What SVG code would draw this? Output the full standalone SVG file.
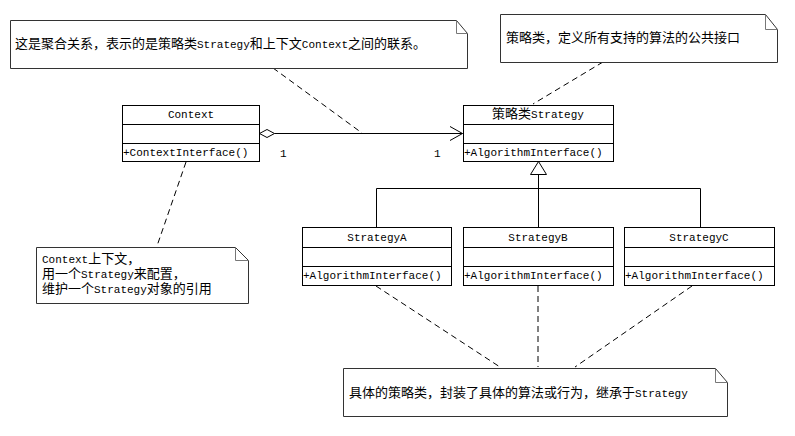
<svg xmlns="http://www.w3.org/2000/svg" width="795" height="436" viewBox="0 0 795 436">
<style>
text{font-family:"Liberation Mono","Noto Sans CJK SC",monospace;font-size:11px;fill:#000}
.c{font-family:"Noto Sans CJK SC",sans-serif;font-size:13px}
.box{fill:#fff;stroke:#000;stroke-width:1}
.note{fill:#fff;stroke:#333;stroke-width:1}
.fold{fill:none;stroke:#777;stroke-width:1}
.dash{fill:none;stroke:#000;stroke-width:1;stroke-dasharray:6 4}
.ln{fill:none;stroke:#000;stroke-width:1}
.mid{text-anchor:middle}
</style>
<rect width="795" height="436" fill="#fff"/>
<g id="connectors">
<line class="dash" x1="273" y1="68" x2="362" y2="133"/>
<line class="dash" x1="603" y1="62" x2="533" y2="104"/>
<line class="dash" x1="186" y1="162" x2="157" y2="246"/>
<line class="dash" x1="376" y1="286" x2="500" y2="367"/>
<line class="dash" x1="538" y1="286" x2="538" y2="367"/>
<line class="dash" x1="692" y1="286" x2="575" y2="367"/>
<polygon class="box" points="259.5,133.5 267,129.5 274.5,133.5 267,137.5"/>
<line class="ln" x1="274.5" y1="133.5" x2="462.5" y2="133.5"/>
<polyline class="ln" points="450,126.5 462.5,133.5 450,140.5"/>
<text x="280" y="157">1</text>
<text x="434" y="157">1</text>
<polygon class="box" points="538.5,161.5 546.5,174.5 530.5,174.5"/>
<line class="ln" x1="538.5" y1="174.5" x2="538.5" y2="227"/>
<polyline class="ln" points="376.5,227 376.5,188.5 700.5,188.5 700.5,227"/>
</g>
<g id="note-aggregation">
<path class="note" d="M10.5,20.5 H456.5 L467.5,33.5 V68.5 H10.5 Z"/>
<polyline class="fold" points="456.5,20.5 456.5,33.5 467.5,33.5"/>
<text x="15" y="48"><tspan class="c">这是聚合关系，表示的是策略类</tspan>Strategy<tspan class="c">和上下文</tspan>Context<tspan class="c">之间的联系。</tspan></text>
</g>
<g id="note-strategy">
<path class="note" d="M500.5,14.5 H765.5 L777.5,29.5 V62.5 H500.5 Z"/>
<polyline class="fold" points="765.5,14.5 765.5,29.5 777.5,29.5"/>
<text x="506" y="42"><tspan class="c">策略类，定义所有支持的算法的公共接口</tspan></text>
</g>
<g id="context">
<rect class="box" x="122.5" y="105.5" width="137" height="56"/>
<line class="ln" x1="122.5" y1="124.5" x2="259.5" y2="124.5"/>
<line class="ln" x1="122.5" y1="143.5" x2="259.5" y2="143.5"/>
<text class="mid" x="191" y="118">Context</text>
<text x="123" y="156">+ContextInterface()</text>
</g>
<g id="strategy">
<rect class="box" x="463.5" y="105.5" width="150" height="56"/>
<line class="ln" x1="463.5" y1="124.5" x2="613.5" y2="124.5"/>
<line class="ln" x1="463.5" y1="143.5" x2="613.5" y2="143.5"/>
<text class="mid" x="538" y="118"><tspan class="c">策略类</tspan>Strategy</text>
<text x="464" y="156">+AlgorithmInterface()</text>
</g>
<g id="strategyA">
<rect class="box" x="302.5" y="227.5" width="149" height="58"/>
<line class="ln" x1="302.5" y1="247.5" x2="451.5" y2="247.5"/>
<line class="ln" x1="302.5" y1="266.5" x2="451.5" y2="266.5"/>
<text class="mid" x="377" y="241">StrategyA</text>
<text x="303" y="279">+AlgorithmInterface()</text>
</g>
<g id="strategyB">
<rect class="box" x="463.5" y="227.5" width="150" height="58"/>
<line class="ln" x1="463.5" y1="247.5" x2="613.5" y2="247.5"/>
<line class="ln" x1="463.5" y1="266.5" x2="613.5" y2="266.5"/>
<text class="mid" x="538" y="241">StrategyB</text>
<text x="464" y="279">+AlgorithmInterface()</text>
</g>
<g id="strategyC">
<rect class="box" x="624.5" y="227.5" width="150" height="58"/>
<line class="ln" x1="624.5" y1="247.5" x2="774.5" y2="247.5"/>
<line class="ln" x1="624.5" y1="266.5" x2="774.5" y2="266.5"/>
<text class="mid" x="699" y="241">StrategyC</text>
<text x="625" y="279">+AlgorithmInterface()</text>
</g>
<g id="note-context">
<path class="note" d="M36.5,247.5 H235.5 L248.5,260.5 V303.5 H36.5 Z"/>
<polyline class="fold" points="235.5,247.5 235.5,260.5 248.5,260.5"/>
<text x="42" y="263">Context<tspan class="c">上下文，</tspan></text>
<text x="42" y="278"><tspan class="c">用一个</tspan>Strategy<tspan class="c">来配置，</tspan></text>
<text x="42" y="293"><tspan class="c">维护一个</tspan>Strategy<tspan class="c">对象的引用</tspan></text>
</g>
<g id="note-concrete">
<path class="note" d="M343.5,368.5 H715.5 L727.5,382.5 V416.5 H343.5 Z"/>
<polyline class="fold" points="715.5,368.5 715.5,382.5 727.5,382.5"/>
<text x="349" y="397"><tspan class="c">具体的策略类，封装了具体的算法或行为，继承于</tspan>Strategy</text>
</g>
</svg>
